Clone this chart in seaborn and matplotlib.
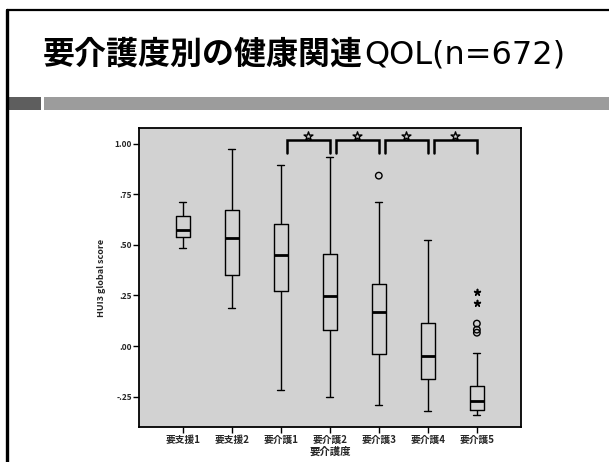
import numpy as np
import pandas as pd
import matplotlib
matplotlib.use("Agg")
import matplotlib.pyplot as plt
from matplotlib.ticker import FuncFormatter
import seaborn as sns

# ---- data ----
categories = ["要支援1", "要支援2", "要介護1", "要介護2", "要介護3", "要介護4", "要介護5"]
whisker_low = [0.485, 0.19, -0.219, -0.252, -0.292, -0.322, -0.343]
q1 = [0.540, 0.350, 0.271, 0.079, -0.041, -0.163, -0.318]
median = [0.573, 0.532, 0.452, 0.248, 0.168, -0.051, -0.270]
q3 = [0.642, 0.670, 0.601, 0.455, 0.309, 0.112, -0.195]
whisker_high = [0.713, 0.972, 0.895, 0.936, 0.713, 0.523, -0.033]

outlier_cat = ["要介護3", "要介護5", "要介護5", "要介護5", "要介護5", "要介護5"]
outlier_val = [0.842, 0.267, 0.215, 0.111, 0.081, 0.066]
outlier_kind = ["o", "*", "*", "o", "o", "o"]

sig_pairs = [("要介護1", "要介護2"), ("要介護2", "要介護3"),
             ("要介護3", "要介護4"), ("要介護4", "要介護5")]

yticks = [1.00, 0.75, 0.50, 0.25, 0.00, -0.25]
title_jp = "要介護度別の健康関連"
title_en = "QOL(n=672)"
xlabel = "要介護度"
ylabel = "HUI3 global score"

# long-form table: five summary values per category give exact quartiles
rows = []
for c, a, b, m, d, e in zip(categories, whisker_low, q1, median, q3, whisker_high):
    for v in (a, b, m, d, e):
        rows.append({"cat": c, "val": v})
df = pd.DataFrame(rows)
out_df = pd.DataFrame({"cat": outlier_cat, "val": outlier_val, "kind": outlier_kind})

sns.set_theme(style="white")
plt.rcParams["font.family"] = ["Noto Sans CJK JP", "DejaVu Sans"]

W, H = 609, 462
fig = plt.figure(figsize=(W / 100, H / 100), dpi=100)
fig.patch.set_facecolor("white")

# slide decorations in pixel coordinates
bg = fig.add_axes([0, 0, 1, 1])
bg.set_xlim(0, W)
bg.set_ylim(H, 0)
bg.axis("off")
bg.plot([7, W], [10, 10], color="black", lw=1.6)
bg.plot([7, 7], [10, H], color="black", lw=2.4)
bg.add_patch(plt.Rectangle((7, 97), 34, 13, color="#5e5e5e", lw=0))
bg.add_patch(plt.Rectangle((44, 97), W - 44, 13, color="#9c9c9c", lw=0))
bg.text(43, 63, title_jp, fontsize=23, fontweight="bold", va="baseline", ha="left",
        family=["Noto Sans CJK JP", "DejaVu Sans"], color="black")
bg.text(364, 63, title_en, fontsize=23, va="baseline", ha="left",
        family=["DejaVu Sans"], color="black")

# chart
ax = fig.add_axes([139 / W, 1 - 427 / H, 382 / W, (427 - 128.3) / H])
ax.set_facecolor("#d2d2d2")
sns.boxplot(data=df, x="cat", y="val", order=categories, ax=ax, fill=False,
            color="black", whis=(0, 100), width=0.28, linewidth=1.0,
            medianprops=dict(linewidth=2.0, color="black"),
            boxprops=dict(color="black"), whiskerprops=dict(color="black"),
            capprops=dict(color="black"), showfliers=False, capwidths=0.14)

circ = out_df[out_df["kind"] == "o"]
star = out_df[out_df["kind"] == "*"]
sns.scatterplot(data=circ, x="cat", y="val", ax=ax, marker="o", s=22,
                facecolor="none", edgecolor="black", linewidth=1.0, legend=False)
sns.scatterplot(data=star, x="cat", y="val", ax=ax, marker=(5, 2, 0), s=18,
                color="black", linewidth=1.2, legend=False)

ax.set_xlim(-0.89, 6.9)
ax.set_ylim(-0.40, 1.076)

# significance brackets with star marks
pos = {c: i for i, c in enumerate(categories)}
for a, b in sig_pairs:
    x0 = pos[a] + 0.12
    x1 = pos[b]
    ax.plot([x0, x0, x1, x1], [0.955, 1.02, 1.02, 0.955], color="black", lw=1.8,
            solid_joinstyle="miter")
    ax.scatter([(x0 + x1) / 2], [1.037], marker="*", s=45, facecolor="#d2d2d2",
               edgecolor="black", linewidth=1.0, zorder=5)

ax.set_yticks(yticks)
ax.yaxis.set_major_formatter(FuncFormatter(lambda v, p: f"{v:.2f}".replace("0.", ".", 1) if abs(v) < 1 else f"{v:.2f}"))
ax.tick_params(axis="both", which="major", direction="out", length=4, width=1,
               color="black", bottom=True, left=True)
ax.tick_params(axis="y", labelsize=6, pad=1)
ax.tick_params(axis="x", labelsize=7, pad=2)
for lab in ax.get_yticklabels():
    lab.set_fontweight("bold")
for lab in ax.get_xticklabels():
    lab.set_fontweight("bold")
ax.set_xlabel(xlabel, fontsize=7.5, fontweight="bold", labelpad=1)
ax.set_ylabel(ylabel, fontsize=6.5, fontweight="bold", labelpad=6)
for s in ax.spines.values():
    s.set_visible(True)
    s.set_color("black")
    s.set_linewidth(1.3)

fig.savefig("out.png", dpi=100, facecolor="white")
